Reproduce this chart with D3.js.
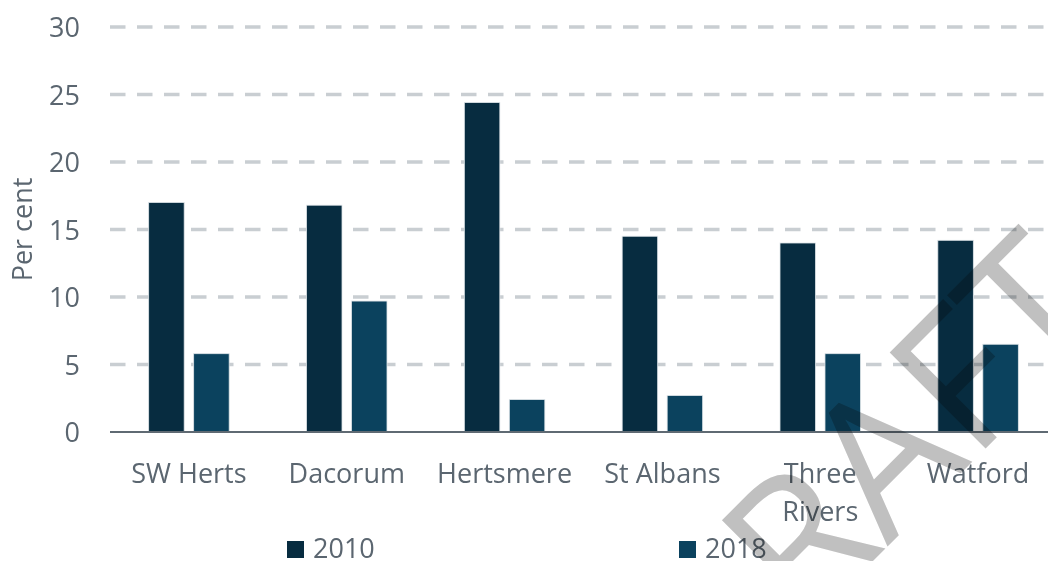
<!DOCTYPE html>
<html>
<head>
<meta charset="utf-8">
<script src="https://cdn.jsdelivr.net/npm/d3@7"></script>
<style>
  html, body { margin: 0; padding: 0; background: #ffffff; }
  svg { display: block; }
  text { font-family: "Open Sans", "Noto Sans", sans-serif; }
</style>
</head>
<body>
<svg id="chart" width="1048" height="561"></svg>
<script>
// Share of residents, by district, 2010 and 2018 (per cent)
const categories = ["SW Herts", "Dacorum", "Hertsmere", "St Albans", "Three Rivers", "Watford"];
const seriesNames = ["2010", "2018"];
const values2010 = [17.0, 16.8, 24.4, 14.5, 14.0, 14.2];
const values2018 = [5.8, 9.7, 2.4, 2.7, 5.8, 6.5];
const yTicks = [0, 5, 10, 15, 20, 25, 30];
const yTitle = "Per cent";
const watermark = "DRAFT";

const seriesColors = { "2010": "#072c40", "2018": "#0b425e" };
const textColor = "#5b6670";

const W = 1048, H = 561;
const plot = { left: 110, right: 1057, top: 27, bottom: 432 };

const svg = d3.select("#chart");

const rows = categories.map((c, i) => ({ category: c, "2010": values2010[i], "2018": values2018[i] }));

const x0 = d3.scaleBand()
  .domain(categories)
  .range([plot.left, plot.right])
  .paddingInner(0.49)
  .paddingOuter(0.245);

const x1 = d3.scaleBand()
  .domain(seriesNames)
  .range([0, x0.bandwidth()])
  .paddingInner(0.211)
  .paddingOuter(0);

const y = d3.scaleLinear().domain([0, 30]).range([plot.bottom, plot.top]);

// Dashed horizontal gridlines
svg.append("g")
  .selectAll("line")
  .data(yTicks.filter(t => t !== 0))
  .join("line")
  .attr("x1", plot.left)
  .attr("x2", W)
  .attr("y1", d => y(d))
  .attr("y2", d => y(d))
  .attr("stroke", "#c9ced2")
  .attr("stroke-width", 3.5)
  .attr("stroke-dasharray", "15.5 11.5");

// Y-axis tick labels
const yAxis = d3.axisLeft(y).tickValues(yTicks).tickSize(0).tickPadding(30);
const gy = svg.append("g").attr("transform", `translate(${plot.left},0)`).call(yAxis);
gy.select(".domain").remove();
gy.selectAll("text")
  .attr("fill", textColor)
  .attr("font-size", 27)
  .attr("font-family", "Open Sans")
  .attr("dy", "0.36em");

// Axis title
svg.append("text")
  .attr("transform", `translate(32,${(plot.top + plot.bottom) / 2}) rotate(-90)`)
  .attr("text-anchor", "middle")
  .attr("fill", textColor)
  .attr("font-size", 27)
  .text(yTitle);

// Grouped bars
const groups = svg.append("g")
  .selectAll("g")
  .data(rows)
  .join("g")
  .attr("transform", d => `translate(${x0(d.category)},0)`);

groups.selectAll("rect")
  .data(d => seriesNames.map(s => ({ key: s, value: d[s] })))
  .join("rect")
  .attr("x", d => x1(d.key))
  .attr("width", x1.bandwidth())
  .attr("y", d => y(d.value))
  .attr("height", d => y(0) - y(d.value))
  .attr("fill", d => seriesColors[d.key])
  .attr("stroke", "#dfe5e9")
  .attr("stroke-width", 0.8);

// Baseline
svg.append("line")
  .attr("x1", plot.left)
  .attr("x2", W)
  .attr("y1", y(0))
  .attr("y2", y(0))
  .attr("stroke", "#5f6a73")
  .attr("stroke-width", 2);

// Category labels, wrapped when too wide for the band
const xAxis = d3.axisBottom(x0).tickSize(0).tickPadding(0);
const gx = svg.append("g").attr("transform", `translate(0,${plot.bottom})`).call(xAxis);
gx.select(".domain").remove();
gx.selectAll("text")
  .attr("fill", textColor)
  .attr("font-size", 27)
  .attr("font-family", "Open Sans")
  .attr("y", 51)
  .attr("dy", 0)
  .each(function () {
    const t = d3.select(this);
    const words = t.text().split(/\s+/);
    if (this.getComputedTextLength() <= 145 || words.length < 2) return;
    t.text(null);
    words.forEach((w, i) => {
      t.append("tspan").attr("x", 0).attr("dy", i === 0 ? 0 : 38).text(w);
    });
  });

// Legend
const legendX = d3.scalePoint().domain(seriesNames).range([287, 679]);
const legend = svg.append("g")
  .selectAll("g")
  .data(seriesNames)
  .join("g")
  .attr("transform", d => `translate(${legendX(d)},541)`);
legend.append("rect")
  .attr("width", 17)
  .attr("height", 17)
  .attr("fill", d => seriesColors[d]);
legend.append("text")
  .attr("x", 26)
  .attr("y", 17)
  .attr("fill", textColor)
  .attr("font-size", 27)
  .text(d => d);

// Diagonal watermark, multiplied over the chart
const wm = svg.append("text")
  .attr("font-family", "Liberation Sans, Arial, sans-serif")
  .attr("font-size", 190)
  .attr("fill", "#c0c0c0")
  .style("mix-blend-mode", "multiply")
  .text(watermark);
const sx = wm.node().getStartPositionOfChar(3).x;
const c = Math.SQRT1_2;
const fStart = [972.5, 461.5];
wm.attr("transform", `translate(${fStart[0] - c * sx},${fStart[1] + c * sx}) rotate(-45)`);
</script>
</body>
</html>
